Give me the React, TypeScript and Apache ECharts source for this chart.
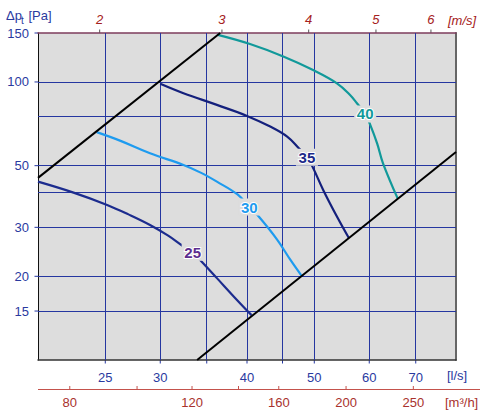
import React, { useEffect, useRef } from "react";
import * as echarts from "echarts";

// ---- data (flow in l/s, pressure in Pa) ----
const speedNames = ["25", "30", "35", "40"];
const curve25: [number, number][] = [
  [20.0, 43.8], [22.5, 40.0], [25.1, 36.2], [27.0, 33.4], [29.0, 30.6], [30.8, 28.0], [32.4, 25.6],
  [33.4, 24.4], [34.4, 22.6], [36.2, 19.7], [38.3, 16.9], [40.6, 14.5],
];
const curve30: [number, number][] = [
  [24.3, 66.0], [26.3, 61.4], [29.0, 55.4], [32.4, 50.3], [34.3, 47.2], [36.2, 43.8],
  [38.8, 39.3], [40.3, 35.5], [41.5, 33.0], [44.2, 27.1], [46.2, 22.9], [48.0, 20.0],
];
const curve35: [number, number][] = [
  [30.0, 98.5], [32.4, 91.1], [36.2, 82.7], [40.0, 75.5], [43.2, 69.1],
  [45.7, 63.6], [47.5, 57.8], [48.8, 53.6], [49.7, 49.6], [51.5, 40.9],
  [53.9, 32.8], [56.1, 27.4],
];
const curve40: [number, number][] = [
  [36.2, 148], [40.4, 136.9], [45.2, 123.3], [49.8, 110.4], [53.9, 98.9],
  [56.3, 89.8], [57.6, 83.8], [59.2, 76.7], [60.2, 70.1], [61.6, 60.0], [62.8, 51.0], [66.0, 37.9],
];
const labelPoints: [number, number][] = [
  [33.4, 24.4], [40.3, 35.5], [48.8, 53.6], [59.2, 76.7],
];
const systemUpper: [number, number][] = [[20, 45.2], [36.6, 150]];
const systemLower: [number, number][] = [[33.9, 10], [80, 56]];

const flowGrid = [25, 30, 35, 40, 45, 50, 60, 70];
const flowLabels = [25, 30, 40, 50, 60, 70];
const pressureGrid = [15, 20, 30, 40, 50, 75, 100];
const pressureLabels = [150, 100, 50, 30, 20, 15];
const m3hTicks = [80, 100, 120, 140, 160, 200, 250];
const m3hLabels = [80, 120, 160, 200, 250];
const speedTicks = [2, 3, 4, 5, 6];
const LS_PER_M3H = 1 / 3.6;
const LS_PER_MS = 12.27; // Ø125 duct

const curveColors = ["#1c2c8e", "#1e9bef", "#14207c", "#11999a"];
const labelColors = ["#5b2d8e", "#1e9bef", "#1c2a8a", "#11999a"];

const FONT = "'Liberation Sans', Arial, sans-serif";
const BLUE = "#2a3a9f";
const RED = "#a8322d";
const GRIDC = "#2536a0";
const BG = "#dddddd";

export default function App() {
  const ref = useRef<HTMLDivElement>(null);
  useEffect(() => {
    if (!ref.current) return;
    const chart = echarts.init(ref.current, null, { renderer: "svg" });
    const curves = [curve25, curve30, curve35, curve40];
    const hidden = {
      axisTick: { show: false },
      axisLabel: { show: false },
      splitLine: { show: false },
    };
    const option: any = {
      animation: false,
      grid: {
        left: 38, right: 24, top: 33, bottom: 52,
        show: true, backgroundColor: BG, borderWidth: 0,
      },
      xAxis: [
        {
          type: "log", logBase: 10, min: 20, max: 80, position: "bottom",
          axisLine: { show: true, onZero: false, lineStyle: { color: "#333", width: 1.5 } },
          ...hidden,
        },
        {
          type: "value", min: 0, max: 1, position: "top",
          axisLine: { show: true, onZero: false, lineStyle: { color: "#7d3d5c", width: 1.5 } },
          ...hidden,
        },
      ],
      yAxis: [
        {
          type: "log", logBase: 10, min: 10, max: 150, position: "left",
          axisLine: { show: true, onZero: false, lineStyle: { color: "#111", width: 1 } },
          ...hidden,
        },
        {
          type: "value", min: 0, max: 1, position: "right",
          axisLine: { show: true, onZero: false, lineStyle: { color: "#666", width: 2 } },
          ...hidden,
        },
      ],
      series: [
        {
          type: "line", data: [], silent: true,
          markLine: {
            silent: true, z: 1, symbol: ["none", "none"],
            label: { show: false },
            lineStyle: { color: GRIDC, width: 1, type: "solid" },
            data: [
              ...flowGrid.map((v) => ({ xAxis: v })),
              ...pressureGrid.map((v) => ({ yAxis: v })),
            ],
          },
        },
        ...curves.map((c, i) => ({
          type: "line", data: c, smooth: 0.4, showSymbol: false, symbol: "none",
          silent: true, z: 3,
          lineStyle: { color: curveColors[i], width: 2.2 },
          markPoint: {
            silent: true, z: 5, symbol: "rect", symbolSize: [22, 17],
            itemStyle: { color: BG },
            label: {
              show: true, position: "inside", formatter: speedNames[i],
              color: labelColors[i], fontSize: 15, fontWeight: "bold", fontFamily: FONT,
              textBorderColor: "#ffffff", textBorderWidth: 2,
            },
            data: [{ coord: labelPoints[i] }],
          },
        })),
        {
          type: "line", data: systemUpper, showSymbol: false, symbol: "none", silent: true, z: 4,
          lineStyle: { color: "#000", width: 2 },
        },
        {
          type: "line", data: systemLower, showSymbol: false, symbol: "none", silent: true, z: 4,
          lineStyle: { color: "#000", width: 2 },
        },
      ],
    };
    chart.setOption(option);

    const px = (v: number) => chart.convertToPixel({ xAxisIndex: 0 }, v) as number;
    const py = (v: number) => chart.convertToPixel({ yAxisIndex: 0 }, v) as number;
    const left = px(20);
    const right = px(80);
    const top = py(150);
    const bottom = py(10);
    const txt = (text: string, x: number, y: number, fill: string, extra: any = {}) => ({
      type: "text", x, y, silent: true,
      style: {
        text, fill, fontSize: 13, fontFamily: FONT,
        align: "center", verticalAlign: "middle", ...extra,
      },
    });
    const ln = (x1: number, y1: number, x2: number, y2: number, stroke: string, lineWidth = 1) => ({
      type: "line", silent: true, shape: { x1, y1, x2, y2 }, style: { stroke, lineWidth },
    });
    const g: any[] = [];
    // y axis
    pressureLabels.forEach((v) => {
      g.push(txt(String(v), left - 9, py(v), BLUE, { align: "right" }));
      g.push(ln(left - 3.5, py(v), left, py(v), GRIDC));
    });
    g.push(txt("Δp", 6, 15, BLUE, { align: "left" }));
    g.push(txt("t", 21, 20.5, BLUE, { align: "left", fontSize: 10 }));
    g.push(txt("[Pa]", 28.5, 15, BLUE, { align: "left" }));
    // l/s axis
    flowGrid.forEach((v) => g.push(ln(px(v), bottom, px(v), bottom + 3.5, GRIDC)));
    flowLabels.forEach((v) => g.push(txt(String(v), px(v), bottom + 17, BLUE)));
    g.push(txt("[l/s]", right - 9, bottom + 15, BLUE, { align: "left" }));
    // m3/h axis
    const my = bottom + 29.5;
    g.push(ln(left, my, 480, my, "#c4524c", 1.2));
    m3hTicks.forEach((v) => g.push(ln(px(v * LS_PER_M3H), my - 3.5, px(v * LS_PER_M3H), my, "#c4524c")));
    m3hLabels.forEach((v) => g.push(txt(String(v), px(v * LS_PER_M3H), my + 13, RED)));
    g.push(txt("[m³/h]", right - 11, my + 13, RED, { align: "left" }));
    // m/s axis
    speedTicks.forEach((v) => {
      g.push(ln(px(v * LS_PER_MS), top - 3.5, px(v * LS_PER_MS), top, "#555"));
      g.push(txt(String(v), px(v * LS_PER_MS), top - 14, "#a52020", { fontStyle: "italic" }));
    });
    g.push(txt("[m/s]", right - 8, top - 13, "#a52020", { align: "left", fontStyle: "italic" }));
    chart.setOption({ graphic: g });

    return () => chart.dispose();
  }, []);
  return (
    <div
      ref={ref}
      style={{ position: "fixed", left: 0, top: 0, width: 480, height: 412, background: "#fff" }}
    />
  );
}
